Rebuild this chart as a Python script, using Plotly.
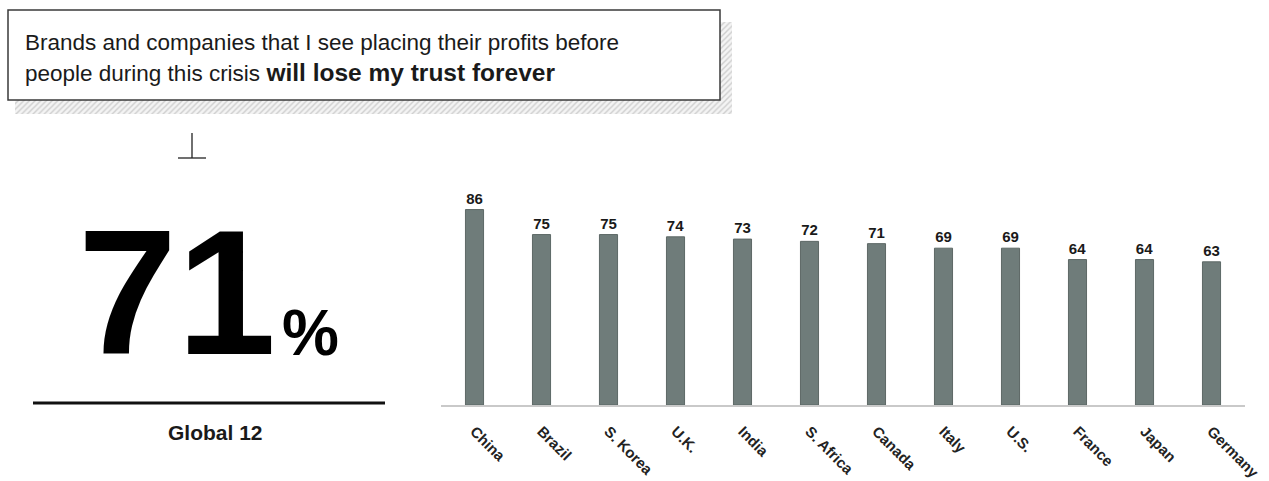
import plotly.graph_objects as go

countries = ["China", "Brazil", "S. Korea", "U.K.", "India", "S. Africa",
             "Canada", "Italy", "U.S.", "France", "Japan", "Germany"]
values = [86, 75, 75, 74, 73, 72, 71, 69, 69, 64, 64, 63]
global_value = 71
global_label = "Global 12"
title_line1 = "Brands and companies that I see placing their profits before"
title_line2_plain = "people during this crisis "
title_line2_bold = "will lose my trust forever"

W, H = 1269, 481
PL, PR, PT, PB = 441, 1245, 180, 405   # plot area in pixels

FONT = "Liberation Sans, Arial, sans-serif"
BAR = "#6f7c7a"

fig = go.Figure()
fig.add_trace(go.Bar(
    x=countries, y=values,
    marker=dict(color=BAR, line=dict(color="#5d6866", width=1)),
    width=0.27,
    text=values, textposition="outside",
    textfont=dict(family=FONT, size=15, color="#1a1a1a", weight="bold"),
    cliponaxis=False,
    hoverinfo="skip",
))

# hatched shadow of the quote box (overlay pixel axes)
fig.add_trace(go.Scatter(
    x=[720, 732, 732, 15, 15, 720, 720],
    y=[22, 22, 114, 114, 100, 100, 22],
    xaxis="x2", yaxis="y2",
    mode="lines", fill="toself", line=dict(width=0),
    fillcolor="rgba(255,255,255,0)",
    fillpattern=dict(shape="/", fgcolor="#a8a8a8", bgcolor="#f4f4f4",
                     size=4, solidity=0.35),
    hoverinfo="skip",
))

shapes = [
    dict(type="rect", xref="x2", yref="y2", x0=8, x1=720, y0=10, y1=100,
         fillcolor="white", line=dict(color="#3a3a3a", width=1.5)),
    dict(type="line", xref="x2", yref="y2", x0=192, x1=192, y0=133, y1=158,
         line=dict(color="#222", width=1.3)),
    dict(type="line", xref="x2", yref="y2", x0=178, x1=206, y0=158, y1=158,
         line=dict(color="#222", width=1.3)),
    dict(type="line", xref="x2", yref="y2", x0=33, x1=385, y0=403, y1=403,
         line=dict(color="#111", width=3)),
]

annotations = [
    dict(xref="x2", yref="y2", x=23, y=42, xanchor="left", yanchor="middle",
         text=title_line1, showarrow=False,
         font=dict(family=FONT, size=22.5, color="#1a1a1a")),
    dict(xref="x2", yref="y2", x=23, y=72, xanchor="left", yanchor="middle",
         text=title_line2_plain + "<b><span style='font-size:24.5px'>" + title_line2_bold + "</span></b>",
         showarrow=False,
         font=dict(family=FONT, size=22.5, color="#1a1a1a")),
    dict(xref="x2", yref="y2", x=177, y=292, xanchor="center", yanchor="middle",
         text="<b>%d</b>" % global_value, showarrow=False,
         font=dict(family=FONT, size=178, color="#000")),
    dict(xref="x2", yref="y2", x=310, y=333, xanchor="center", yanchor="middle",
         text="<b>%</b>", showarrow=False,
         font=dict(family=FONT, size=64, color="#000")),
    dict(xref="x2", yref="y2", x=215, y=432, xanchor="center", yanchor="middle",
         text="<b>%s</b>" % global_label, showarrow=False,
         font=dict(family=FONT, size=21, color="#1a1a1a")),
]

fig.update_layout(
    width=W, height=H,
    margin=dict(l=0, r=0, t=0, b=0),
    paper_bgcolor="white", plot_bgcolor="rgba(0,0,0,0)",
    showlegend=False,
    shapes=shapes, annotations=annotations,
    xaxis=dict(domain=[PL / W, PR / W], range=[-0.5, len(countries) - 0.5],
               showline=True, linecolor="#c9c9c9", linewidth=1.5, ticks="",
               tickangle=45, showgrid=False, ticklabelstandoff=10, automargin=False,
               tickfont=dict(family=FONT, size=15, color="#222", weight="bold")),
    yaxis=dict(domain=[1 - PB / H, 1 - PT / H], range=[0, 99], visible=False,
               showgrid=False, zeroline=False, automargin=False),
    xaxis2=dict(domain=[0, 1], range=[0, W], visible=False, automargin=False,
                anchor="y2", fixedrange=True),
    yaxis2=dict(domain=[0, 1], range=[H, 0], visible=False, anchor="x2",
                automargin=False, fixedrange=True),
    font=dict(family=FONT),
)

fig.write_html("out.html")
